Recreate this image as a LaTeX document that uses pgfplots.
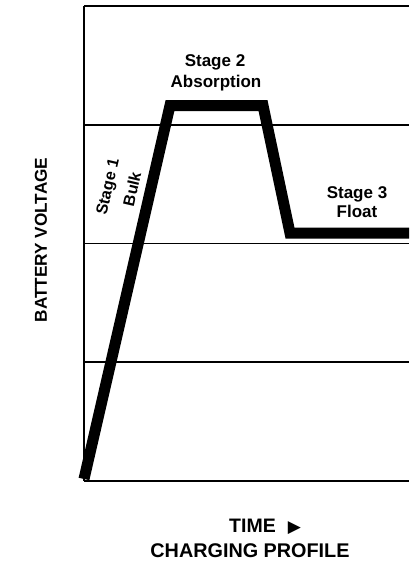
\documentclass[border=0pt]{standalone}
\usepackage{pgfplots}
\pgfplotsset{compat=1.18}
\usepackage{fontspec}
\setmainfont{Liberation Sans}
\newfontfamily\symfont{DejaVu Sans}
\begin{document}
\begin{tikzpicture}[x=1pt,y=1pt]
\begin{axis}[
  at={(0,0)}, anchor=south west,
  scale only axis, width=325pt, height=475pt,
  xmin=0, xmax=325, ymin=0, ymax=4,
  axis x line=bottom, axis y line=left,
  axis line style={black, line width=1.8pt, -},
  xtick=\empty, ytick={1,2,3,4}, yticklabels={},
  major tick length=0pt,
  ymajorgrids, major grid style={black, line width=1.6pt},
  clip=false,
]
\addplot[black, line width=11pt, line join=miter, line cap=butt] coordinates {
  (0,0.017) (86,3.162) (179,3.162) (206,2.088) (325,2.088)
};
\end{axis}
% stage labels (tikz coords: x = px-84, y = 481-py)
\node[anchor=base, font=\bfseries\fontsize{17}{20}\selectfont] at (131,414) {Stage 2};
\node[anchor=base, font=\bfseries\fontsize{17}{20}\selectfont] at (132,393) {Absorption};
\node[anchor=base, font=\bfseries\fontsize{17}{20}\selectfont] at (273,282) {Stage 3};
\node[anchor=base, font=\bfseries\fontsize{17}{20}\selectfont] at (273,263) {Float};
\node[rotate=77, inner sep=0pt, font=\bfseries\fontsize{16}{20}\selectfont] at (25,294) {Stage 1};
\node[rotate=77, inner sep=0pt, font=\bfseries\fontsize{16}{20}\selectfont] at (48,292) {Bulk};
% axis labels
\node[rotate=90, anchor=base, font=\bfseries\fontsize{17.2}{20}\selectfont] at (-37,241) {BATTERY VOLTAGE};
\node[anchor=base, font=\bfseries\fontsize{19.5}{22}\selectfont] at (181,-51) {TIME\hspace{12pt}{\symfont\fontsize{17}{20}\selectfont ▶}};
\node[anchor=base, font=\bfseries\fontsize{19.8}{22}\selectfont] at (166,-76) {CHARGING PROFILE};
\pgfresetboundingbox
\path[use as bounding box] (-84,-80) rectangle (325,481);
\end{tikzpicture}
\end{document}
